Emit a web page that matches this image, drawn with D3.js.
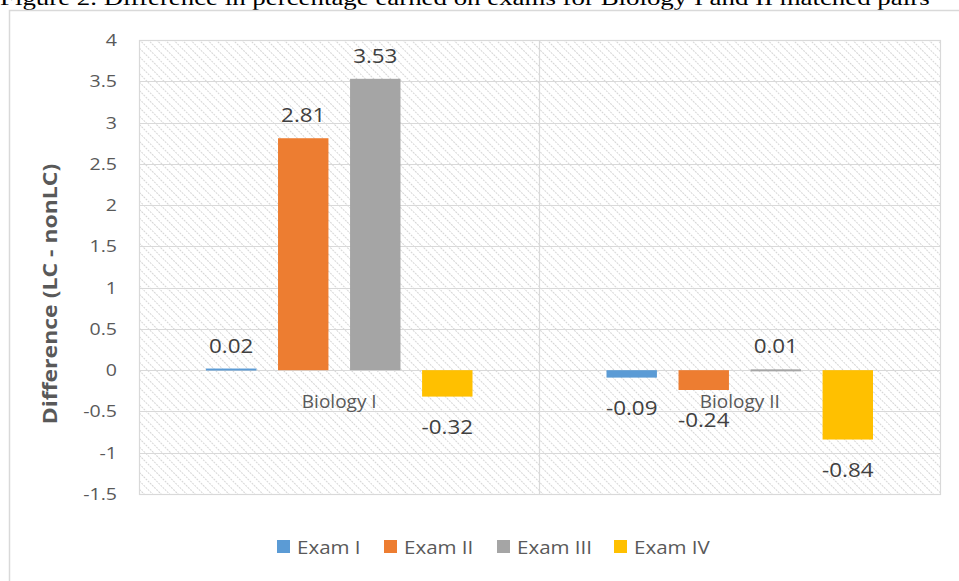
<!DOCTYPE html>
<html>
<head>
<meta charset="utf-8">
<script src="https://cdn.jsdelivr.net/npm/d3@7"></script>
<style>
  body { margin: 0; background: #fff; }
  svg text { font-family: "Open Sans", "Noto Sans", sans-serif; }
</style>
</head>
<body>
<svg id="chart" width="959" height="581"></svg>
<script>
var categories = ["Biology I", "Biology II"];
var exams = ["Exam I", "Exam II", "Exam III", "Exam IV"];
var examColors = ["#5b9bd5", "#ed7d31", "#a5a5a5", "#ffc000"];
// difference values, one array per category (Exam I..IV)
var bio1Values = [0.02, 2.81, 3.53, -0.32];
var bio2Values = [-0.09, -0.24, 0.01, -0.84];
var yTicks = [4, 3.5, 3, 2.5, 2, 1.5, 1, 0.5, 0, -0.5, -1, -1.5];

var allValues = [bio1Values, bio2Values];
var svg = d3.select("#chart");

var margin = { top: 40, right: 19, bottom: 87, left: 139 },
    width = 959 - margin.left - margin.right,
    height = 581 - margin.top - margin.bottom;

// helper: text stretched horizontally (source image is a bit wide)
function stretchedText(parent, x, y, str, size, sx, anchor) {
    var t = parent.append("g")
        .attr("transform", `translate(${x},${y}) scale(${sx},1)`)
        .append("text")
        .attr("text-anchor", anchor || "start")
        .style("font-size", size + "px")
        .text(str);
    return t;
}

// caption (cut off at top, as in the source)
var cap = svg.append("g").attr("transform", "translate(0,5)");
var capText = cap.append("text")
    .style("font-family", "'Liberation Serif', 'Times New Roman', serif")
    .style("font-size", "22px")
    .attr("fill", "#000")
    .text("Figure 2. Difference in percentage earned on exams for Biology I and II matched pairs");
cap.attr("transform", `translate(0,5) scale(${930 / capText.node().getComputedTextLength()},1)`);

// chart outer border
svg.append("path")
    .attr("d", "M9.5,581 L9.5,10.5 L959,10.5")
    .attr("fill", "none")
    .attr("stroke", "#d9d9d9")
    .attr("stroke-width", 1.5);

// hatch pattern
var defs = svg.append("defs");
var pat = defs.append("pattern")
    .attr("id", "hatch")
    .attr("patternUnits", "userSpaceOnUse")
    .attr("width", 6)
    .attr("height", 6)
    .attr("patternTransform", "rotate(-45)");
pat.append("line")
    .attr("x1", 0).attr("y1", 0).attr("x2", 0).attr("y2", 6)
    .attr("stroke", "#d6d6d6")
    .attr("stroke-width", 2)
    .attr("stroke-dasharray", "2,1");

var g = svg.append("g").attr("transform", `translate(${margin.left},${margin.top})`);

var x0 = d3.scaleBand().domain(categories).range([0, width]);
var x1 = d3.scaleBand().domain(exams).range([67, x0.bandwidth() - 67]).paddingInner(0.3);
var y = d3.scaleLinear().domain([-1.5, 4]).range([height, 0]);

g.append("rect")
    .attr("width", width).attr("height", height)
    .attr("fill", "url(#hatch)");

// gridlines
g.selectAll(".grid").data(yTicks).enter().append("line")
    .attr("x1", 0).attr("x2", width)
    .attr("y1", d => Math.round(y(d)) + 0.5).attr("y2", d => Math.round(y(d)) + 0.5)
    .attr("stroke", "#d9d9d9").attr("stroke-width", 1.2);

// plot border and category divider
g.append("rect")
    .attr("x", 0.5).attr("y", 0.5)
    .attr("width", width).attr("height", height)
    .attr("fill", "none").attr("stroke", "#d9d9d9").attr("stroke-width", 1.2);
g.append("line")
    .attr("x1", x0("Biology II")).attr("x2", x0("Biology II"))
    .attr("y1", 0).attr("y2", height)
    .attr("stroke", "#d9d9d9").attr("stroke-width", 1.2);

// y axis tick labels
yTicks.forEach(function (d) {
    stretchedText(g, -22, y(d) + 6, d, 17, 1.15, "end").attr("fill", "#595959");
});

// bars
categories.forEach(function (cat, ci) {
    var vals = allValues[ci];
    var grp = g.append("g").attr("transform", `translate(${x0(cat)},0)`);
    grp.selectAll("rect").data(vals).enter().append("rect")
        .attr("x", (d, i) => x1(exams[i]))
        .attr("width", x1.bandwidth())
        .attr("y", d => y(Math.max(0, d)))
        .attr("height", d => Math.max(2, Math.abs(y(d) - y(0))))
        .attr("fill", (d, i) => examColors[i]);
    vals.forEach(function (d, i) {
        stretchedText(grp, x1(exams[i]) + x1.bandwidth() / 2,
            d >= 0 ? y(d) - 16 : y(d) + 37, d.toFixed(2), 20, 1.12, "middle")
            .attr("fill", "#404040");
    });
    // category label
    g.append("text")
        .attr("x", x0(cat) + x0.bandwidth() / 2)
        .attr("y", y(0) + 38)
        .attr("text-anchor", "middle")
        .style("font-size", "19px")
        .attr("fill", "#595959")
        .text(cat);
});

// y axis title
svg.append("g")
    .attr("transform", "translate(57,294) rotate(-90) scale(1.15,1)")
    .append("text")
    .attr("text-anchor", "middle")
    .style("font-size", "20px")
    .style("font-weight", "bold")
    .attr("fill", "#595959")
    .text("Difference (LC - nonLC)");

// legend
var legendX = [277, 384, 497, 614];
var lg = svg.append("g").attr("transform", "translate(0,547)");
exams.forEach(function (e, i) {
    lg.append("rect")
        .attr("x", legendX[i]).attr("y", -7)
        .attr("width", 13).attr("height", 13)
        .attr("fill", examColors[i]);
    stretchedText(lg, legendX[i] + 20, 7, e, 19, 1.08).attr("fill", "#595959");
});
</script>
</body>
</html>
